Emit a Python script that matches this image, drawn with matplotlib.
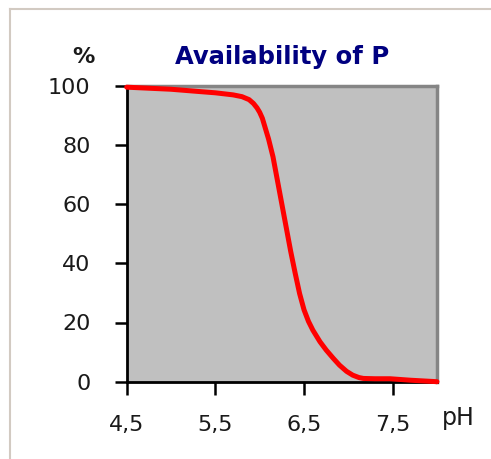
import matplotlib
matplotlib.use("Agg")
import matplotlib.pyplot as plt
from matplotlib.lines import Line2D

ph = [4.5, 5.0, 5.33, 5.5, 5.7, 5.8, 5.88, 5.93, 5.97, 6.0, 6.03, 6.06, 6.1, 6.15, 6.2, 6.25, 6.3,
      6.35, 6.4, 6.45, 6.5, 6.55, 6.6, 6.68, 6.75, 6.83, 6.9, 6.98, 7.05, 7.12, 7.17, 7.3, 7.47,
      7.7, 8.0]
avail = [99.5, 98.8, 98.0, 97.6, 96.9, 96.3, 95.3, 94.0, 92.5, 91.0, 89.0, 86.0, 82.0, 76.0, 68.0,
         60.0, 52.0, 44.0, 36.7, 29.8, 24.3, 20.4, 17.4, 13.5, 10.7, 7.9, 5.6, 3.5, 2.2, 1.4, 1.1,
         1.0, 1.0, 0.5, 0.0]
xticks = [4.5, 5.5, 6.5, 7.5]
xtick_labels = ["4,5", "5,5", "6,5", "7,5"]
yticks = [0, 20, 40, 60, 80, 100]

W, H = 491, 459
fig = plt.figure(figsize=(W / 100, H / 100), dpi=100)
fig.patch.set_facecolor("white")

# outer frame lines
fig.add_artist(Line2D([10 / W, 10 / W], [0, 1 - 9 / H], color="#d2cac2", lw=1.5))
fig.add_artist(Line2D([10 / W, 1], [1 - 9 / H, 1 - 9 / H], color="#d2cac2", lw=1.5))

ax = fig.add_axes([126.7 / W, 1 - 381.7 / H, (437 - 126.7) / W, (381.7 - 85.7) / H])
ax.set_facecolor("#c0c0c0")
ax.plot(ph, avail, color="#ff0000", lw=3.6, solid_capstyle="round", solid_joinstyle="round",
        clip_on=False, zorder=5)
ax.set_xlim(4.5, 8.0)
ax.set_ylim(0, 100)

ax.set_xticks(xticks)
ax.set_xticklabels(xtick_labels)
ax.set_yticks(yticks)

tc = "#1a1a1a"
ax.tick_params(axis="both", direction="out", length=9, width=1.8, color="black",
               labelsize=16, labelcolor=tc)
ax.tick_params(axis="y", pad=17)
ax.tick_params(axis="x", pad=15)

for s in ["left", "bottom"]:
    ax.spines[s].set_color("black")
    ax.spines[s].set_linewidth(2)
for s in ["top", "right"]:
    ax.spines[s].set_color("#858585")
    ax.spines[s].set_linewidth(2.5)

fig.text(282 / W, 1 - 57 / H, "Availability of P", ha="center", va="center",
         fontsize=17.5, fontweight="bold", color="#000080")
fig.text(83 / W, 1 - 57 / H, "%", ha="center", va="center", fontsize=16,
         fontweight="bold", color=tc)
fig.text(458 / W, 1 - 418 / H, "pH", ha="center", va="center", fontsize=17, color=tc)

fig.savefig("out.png", dpi=100, facecolor="white")
